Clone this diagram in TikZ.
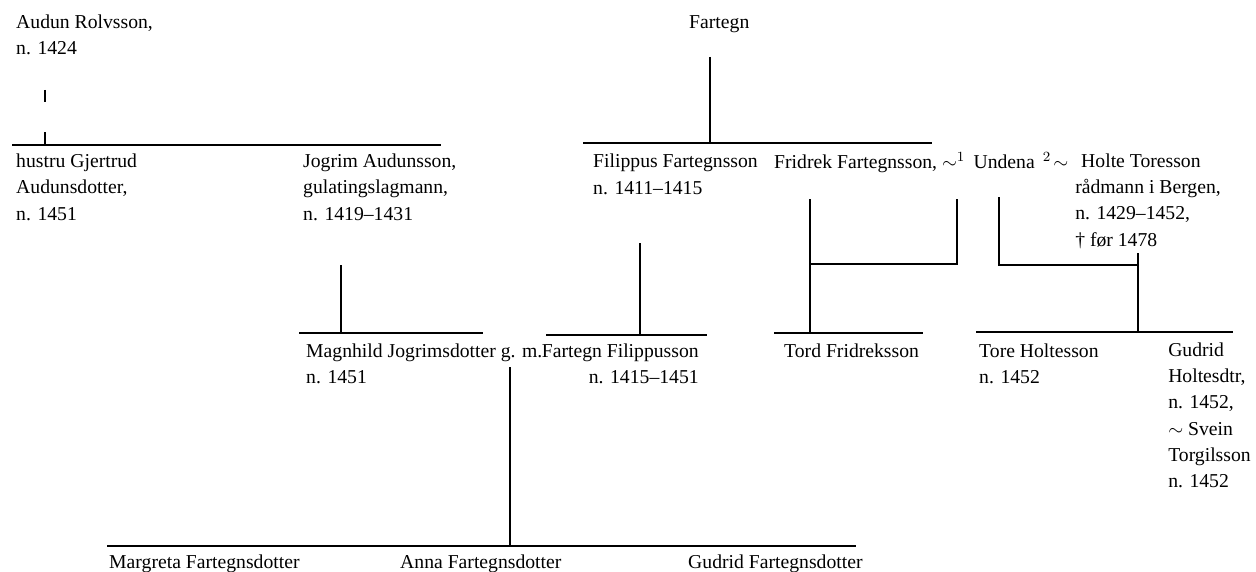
\documentclass[tikz,border=0pt]{standalone}
\usepackage{fontspec}
\setmainfont{Liberation Serif}
\usetikzlibrary{positioning}

\begin{document}
\begin{tikzpicture}[x=0.02cm,y=-0.02cm,line width=1.4pt]
  \tikzstyle{person}=[anchor=base west,inner sep=0pt,align=left,font=\fontsize{11.2}{14.8}\selectfont]
  \useasboundingbox (0,0) rectangle (1256,571);
  % generation 1 (multi-line nodes sit on the baseline of their last line)
  \node[person] (audun) at (15,55) {Audun Rolvsson,\\n. 1424};
  \node[person] (fartegn) at (688,29) {Fartegn};
  % generation 2
  \node[person] (gjertrud) at (15,220) {hustru Gjertrud\\Audunsdotter,\\n. 1451};
  \node[person] (jogrim) at (302,220) {Jogrim Audunsson,\\gulatingslagmann,\\n. 1419–1431};
  \node[person] (filippus) at (592,194) {Filippus Fartegnsson\\n. 1411–1415};
  \node[person] (fridrek) at (773,168) {Fridrek Fartegnsson,\ $\sim^{1}$\,\ Undena\,\ ${}^{2}\!\sim$};
  \node[person] (holte) at (1074,246) {\hspace*{0.12cm}Holte Toresson\\rådmann i Bergen,\\n. 1429–1452,\\† før 1478};
  % generation 3
  \node[person] (magnhild) at (305,383) {Magnhild Jogrimsdotter g. m.\\n. 1451};
  \node[person,anchor=north west,align=right,xshift=-0.06cm] (fartegnf) at (magnhild.north east) {Fartegn Filippusson\\n. 1415–1451};
  \node[person] (tord) at (783,357) {Tord Fridreksson};
  \node[person] (tore) at (978,383) {Tore Holtesson\\n. 1452};
  \node[person] (gudridh) at (1167,487) {Gudrid\\Holtesdtr,\\n. 1452,\\$\sim$ Svein\\Torgilsson\\n. 1452};
  % generation 4
  \node[person] (margreta) at (108,568) {Margreta Fartegnsdotter};
  \node[person] (anna) at (399,568) {Anna Fartegnsdotter};
  \node[person] (gudridf) at (687,568) {Gudrid Fartegnsdotter};

  % Audun's family
  \coordinate (au1) at (45,90); \coordinate (au2) at (45,102);
  \coordinate (au3) at (45,132); \coordinate (au4) at (45,145);
  \coordinate (bar1w) at (12,145); \coordinate (bar1e) at (441,145);
  \draw (au1) -- (au2);
  \draw (au3) -- (au4);
  \draw (bar1w) -- (bar1e);
  % Fartegn's family
  \coordinate (fa1) at (710,57); \coordinate (fa2) at (710,143);
  \coordinate (bar2w) at (583,143); \coordinate (bar2e) at (932,143);
  \draw (fa1) -- (fa2);
  \draw (bar2w) -- (bar2e);
  % Jogrim -> Magnhild
  \coordinate (jo1) at (341,265); \coordinate (jo2) at (341,333);
  \coordinate (bar3w) at (299,333); \coordinate (bar3e) at (483,333);
  \draw (jo1) -- (jo2);
  \draw (bar3w) -- (bar3e);
  % Filippus -> Fartegn
  \coordinate (fi1) at (640,243); \coordinate (fi2) at (640,335);
  \coordinate (bar4w) at (546,335); \coordinate (bar4e) at (707,335);
  \draw (fi1) -- (fi2);
  \draw (bar4w) -- (bar4e);
  % Fridrek ~1 Undena -> Tord
  \coordinate (fr1) at (810,199); \coordinate (fr2) at (810,264);
  \coordinate (fr3) at (957,199); \coordinate (fr4) at (957,264);
  \coordinate (fr5) at (810,333);
  \coordinate (bar5w) at (774,333); \coordinate (bar5e) at (923,333);
  \draw (fr1) -- (fr5);
  \draw (fr3) -- (fr4) -- (fr2);
  \draw (bar5w) -- (bar5e);
  % Undena ~2 Holte -> Tore, Gudrid
  \coordinate (un1) at (999,197); \coordinate (un2) at (999,265);
  \coordinate (ho1) at (1138,253); \coordinate (ho2) at (1138,265);
  \coordinate (ho3) at (1138,332);
  \coordinate (bar6w) at (976,332); \coordinate (bar6e) at (1233,332);
  \draw (un1) -- (un2) -- (ho2);
  \draw (ho1) -- (ho3);
  \draw (bar6w) -- (bar6e);
  % Magnhild g. m. Fartegn -> children
  \coordinate (gm1) at (510,367); \coordinate (gm2) at (510,546);
  \coordinate (bar7w) at (107,546); \coordinate (bar7e) at (856,546);
  \draw (gm1) -- (gm2);
  \draw (bar7w) -- (bar7e);
\end{tikzpicture}
\end{document}
